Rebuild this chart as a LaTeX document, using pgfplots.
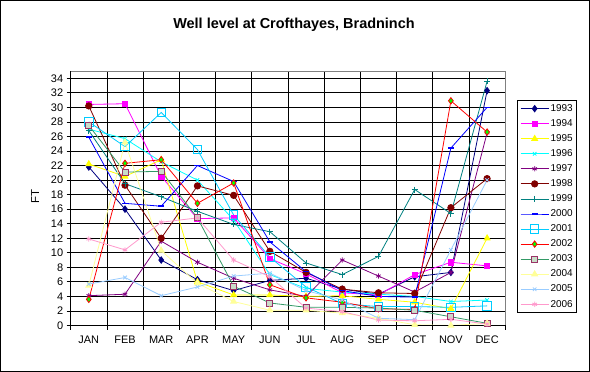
\documentclass[border=0pt]{standalone}
\usepackage{pgfplots}
\usepackage{pgfplotstable}
\pgfplotsset{compat=1.18}
\usepackage{fontspec}
\setmainfont{Liberation Sans}
\definecolor{c93}{HTML}{000080}
\definecolor{c94}{HTML}{FF00FF}
\definecolor{c95}{HTML}{FFFF00}
\definecolor{c96}{HTML}{00FFFF}
\definecolor{c97}{HTML}{800080}
\definecolor{c98}{HTML}{800000}
\definecolor{c99}{HTML}{008080}
\definecolor{c00}{HTML}{0000FF}
\definecolor{c01}{HTML}{00CCFF}
\definecolor{c02}{HTML}{FF0000}
\definecolor{c02f}{HTML}{00FF00}
\definecolor{c03}{HTML}{339966}
\definecolor{c03f}{HTML}{C8DCC8}
\definecolor{c03b}{HTML}{993366}
\definecolor{c04}{HTML}{FFFF99}
\definecolor{c05}{HTML}{99CCFF}
\definecolor{c06}{HTML}{FF99CC}
\pgfplotstableread{
m  a93  a94  a95  a96  a97  a98  a99  a00  a01  a02  a03  a04  a05  a06
0  21.8 30.4 22.2 27.0 4.1  30.2 26.8 25.9 28.0 3.6  27.5 5.5  5.7  11.9
1  16.0 30.5 20.5 25.7 4.3  19.3 19.5 16.8 24.6 22.3 21.1 25.2 6.6  10.4
2  9.0  20.5 22.8 22.5 11.6 12.0 17.7 16.4 29.3 22.8 21.2 10.3 4.1  14.2
3  6.3  14.7 6.0  20.0 8.7  19.2 15.7 22.0 24.2 16.8 14.8 5.8  5.3  14.8
4  4.8  14.8 4.2  14.5 6.5  17.9 13.9 19.8 15.2 19.6 5.4  3.3  6.8  9.0
5  6.2  9.2  4.2  7.0  4.9  10.2 12.9 11.5 9.4  5.6  3.1  2.1  7.2  6.7
6  6.5  7.1  4.0  5.1  4.0  7.3  8.6  7.4  5.3  3.8  2.5  2.1  4.8  2.4
7  5.0  4.5  4.1  4.6  9.0  5.0  7.0  4.8  3.0  3.2  2.5  1.7  3.5  1.9
8  4.3  4.2  3.6  4.3  6.8  4.5  9.5  4.0  2.6  2.3  2.4  1.0  1.0  0.75
9  6.7  7.0  3.2  4.0  4.6  4.4  18.7 3.9  2.6  2.2  2.1  0.1  0.8  0.65
10 7.3  8.7  2.3  3.3  7.3  16.2 15.4 24.4 2.5  30.9 1.2  0.0  10.4 0.85
11 32.3 8.2  12.0 3.5  26.5 20.2 33.6 30.0 2.7  26.6 0.3  0.3  20.0 0.2
}\datatable
\begin{document}
\begin{tikzpicture}
\draw[black, line width=1bp] (0.5bp,0.5bp) rectangle (589.5bp,371.5bp);
\node[font=\bfseries\fontsize{14.5}{17}\selectfont] at (294bp,347bp) {Well level at Crofthayes, Bradninch};
\begin{axis}[
  at={(70.7bp,46.5bp)}, anchor=south west, scale only axis,
  width=434.5bp, height=254.5bp,
  xmin=-0.5, xmax=11.5, ymin=0, ymax=35,
  clip=false,
  xtick={0,...,11},
  xticklabels={JAN,FEB,MAR,APR,MAY,JUN,JUL,AUG,SEP,OCT,NOV,DEC},
  minor xtick={-0.5,0.5,...,11.5},
  ytick={0,2,...,34},
  ymajorgrids, xminorgrids,
  major grid style={black, line width=0.8bp},
  minor grid style={black, line width=0.8bp},
  major x tick style={draw=none},
  tick align=outside, tick pos=left,
  major tick length=4bp, minor tick length=4bp,
  every tick/.style={black, line width=0.8bp},
  axis line style={draw=none},
  ticklabel style={font=\fontsize{11}{13}\selectfont},
  xticklabel style={yshift=-2.5bp},
  /pgf/number format/assume math mode=true,
  ylabel={FT},
  ylabel style={at={(axis description cs:-0.082,0.505)}, anchor=center, font=\fontsize{11.5}{13}\selectfont},
  legend style={at={(1.028,0.886)}, anchor=north west, draw=black, line width=0.8bp,
    font=\fontsize{10}{12}\selectfont, row sep=3.6bp, inner sep=2.5bp,
    nodes={inner sep=1.5bp}},
  legend cell align=left,
  legend image code/.code={\draw[mark repeat=2,mark phase=2] plot coordinates {(0bp,0bp) (14bp,0bp) (28bp,0bp)};},
  every axis plot/.append style={line width=0.8bp},
]
\addplot[c93, mark=diamond*, mark size=3.2bp, mark options={solid,fill=c93}] table[x=m,y=a93]{\datatable};
\addlegendentry{1993}
\addplot[c94, mark=square*, mark size=2.7bp, mark options={solid,fill=c94}] table[x=m,y=a94]{\datatable};
\addlegendentry{1994}
\addplot[c95, mark=triangle*, mark size=3.4bp, mark options={solid,fill=c95}] table[x=m,y=a95]{\datatable};
\addlegendentry{1995}
\addplot[c96, mark=x, mark size=2.5bp, mark options={solid}] table[x=m,y=a96]{\datatable};
\addlegendentry{1996}
\addplot[c97, mark=asterisk, mark size=2.6bp, mark options={solid}] table[x=m,y=a97]{\datatable};
\addlegendentry{1997}
\addplot[c98, mark=*, mark size=3.2bp, mark options={solid,fill=c98}] table[x=m,y=a98]{\datatable};
\addlegendentry{1998}
\addplot[c99, mark=+, mark size=3bp, mark options={solid}] table[x=m,y=a99]{\datatable};
\addlegendentry{1999}
\addplot[c00, mark=-, mark size=3bp, mark options={solid,line width=1.5bp}] table[x=m,y=a00]{\datatable};
\addlegendentry{2000}
\addplot[c01, mark=square, mark size=4.2bp, mark options={solid,line width=1bp}] table[x=m,y=a01]{\datatable};
\addlegendentry{2001}
\addplot[c02, mark=diamond*, mark size=3.2bp, mark options={solid,fill=c02f,draw=c02}] table[x=m,y=a02]{\datatable};
\addlegendentry{2002}
\addplot[c03, mark=square*, mark size=3bp, mark options={solid,fill=c03f,draw=c03b}] table[x=m,y=a03]{\datatable};
\addlegendentry{2003}
\addplot[c04, mark=triangle*, mark size=3.4bp, mark options={solid,fill=c04}] table[x=m,y=a04]{\datatable};
\addlegendentry{2004}
\addplot[c05, mark=x, mark size=2.5bp, mark options={solid}] table[x=m,y=a05]{\datatable};
\addlegendentry{2005}
\addplot[c06, mark=asterisk, mark size=2.6bp, mark options={solid}] table[x=m,y=a06]{\datatable};
\addlegendentry{2006}
\draw[black, line width=0.8bp] (rel axis cs:0,1) -- (rel axis cs:0,0) -- (rel axis cs:1,0);
\draw[gray, line width=0.8bp] (rel axis cs:0,1) -- (rel axis cs:1,1) -- (rel axis cs:1,0);
\end{axis}
\end{tikzpicture}
\end{document}
